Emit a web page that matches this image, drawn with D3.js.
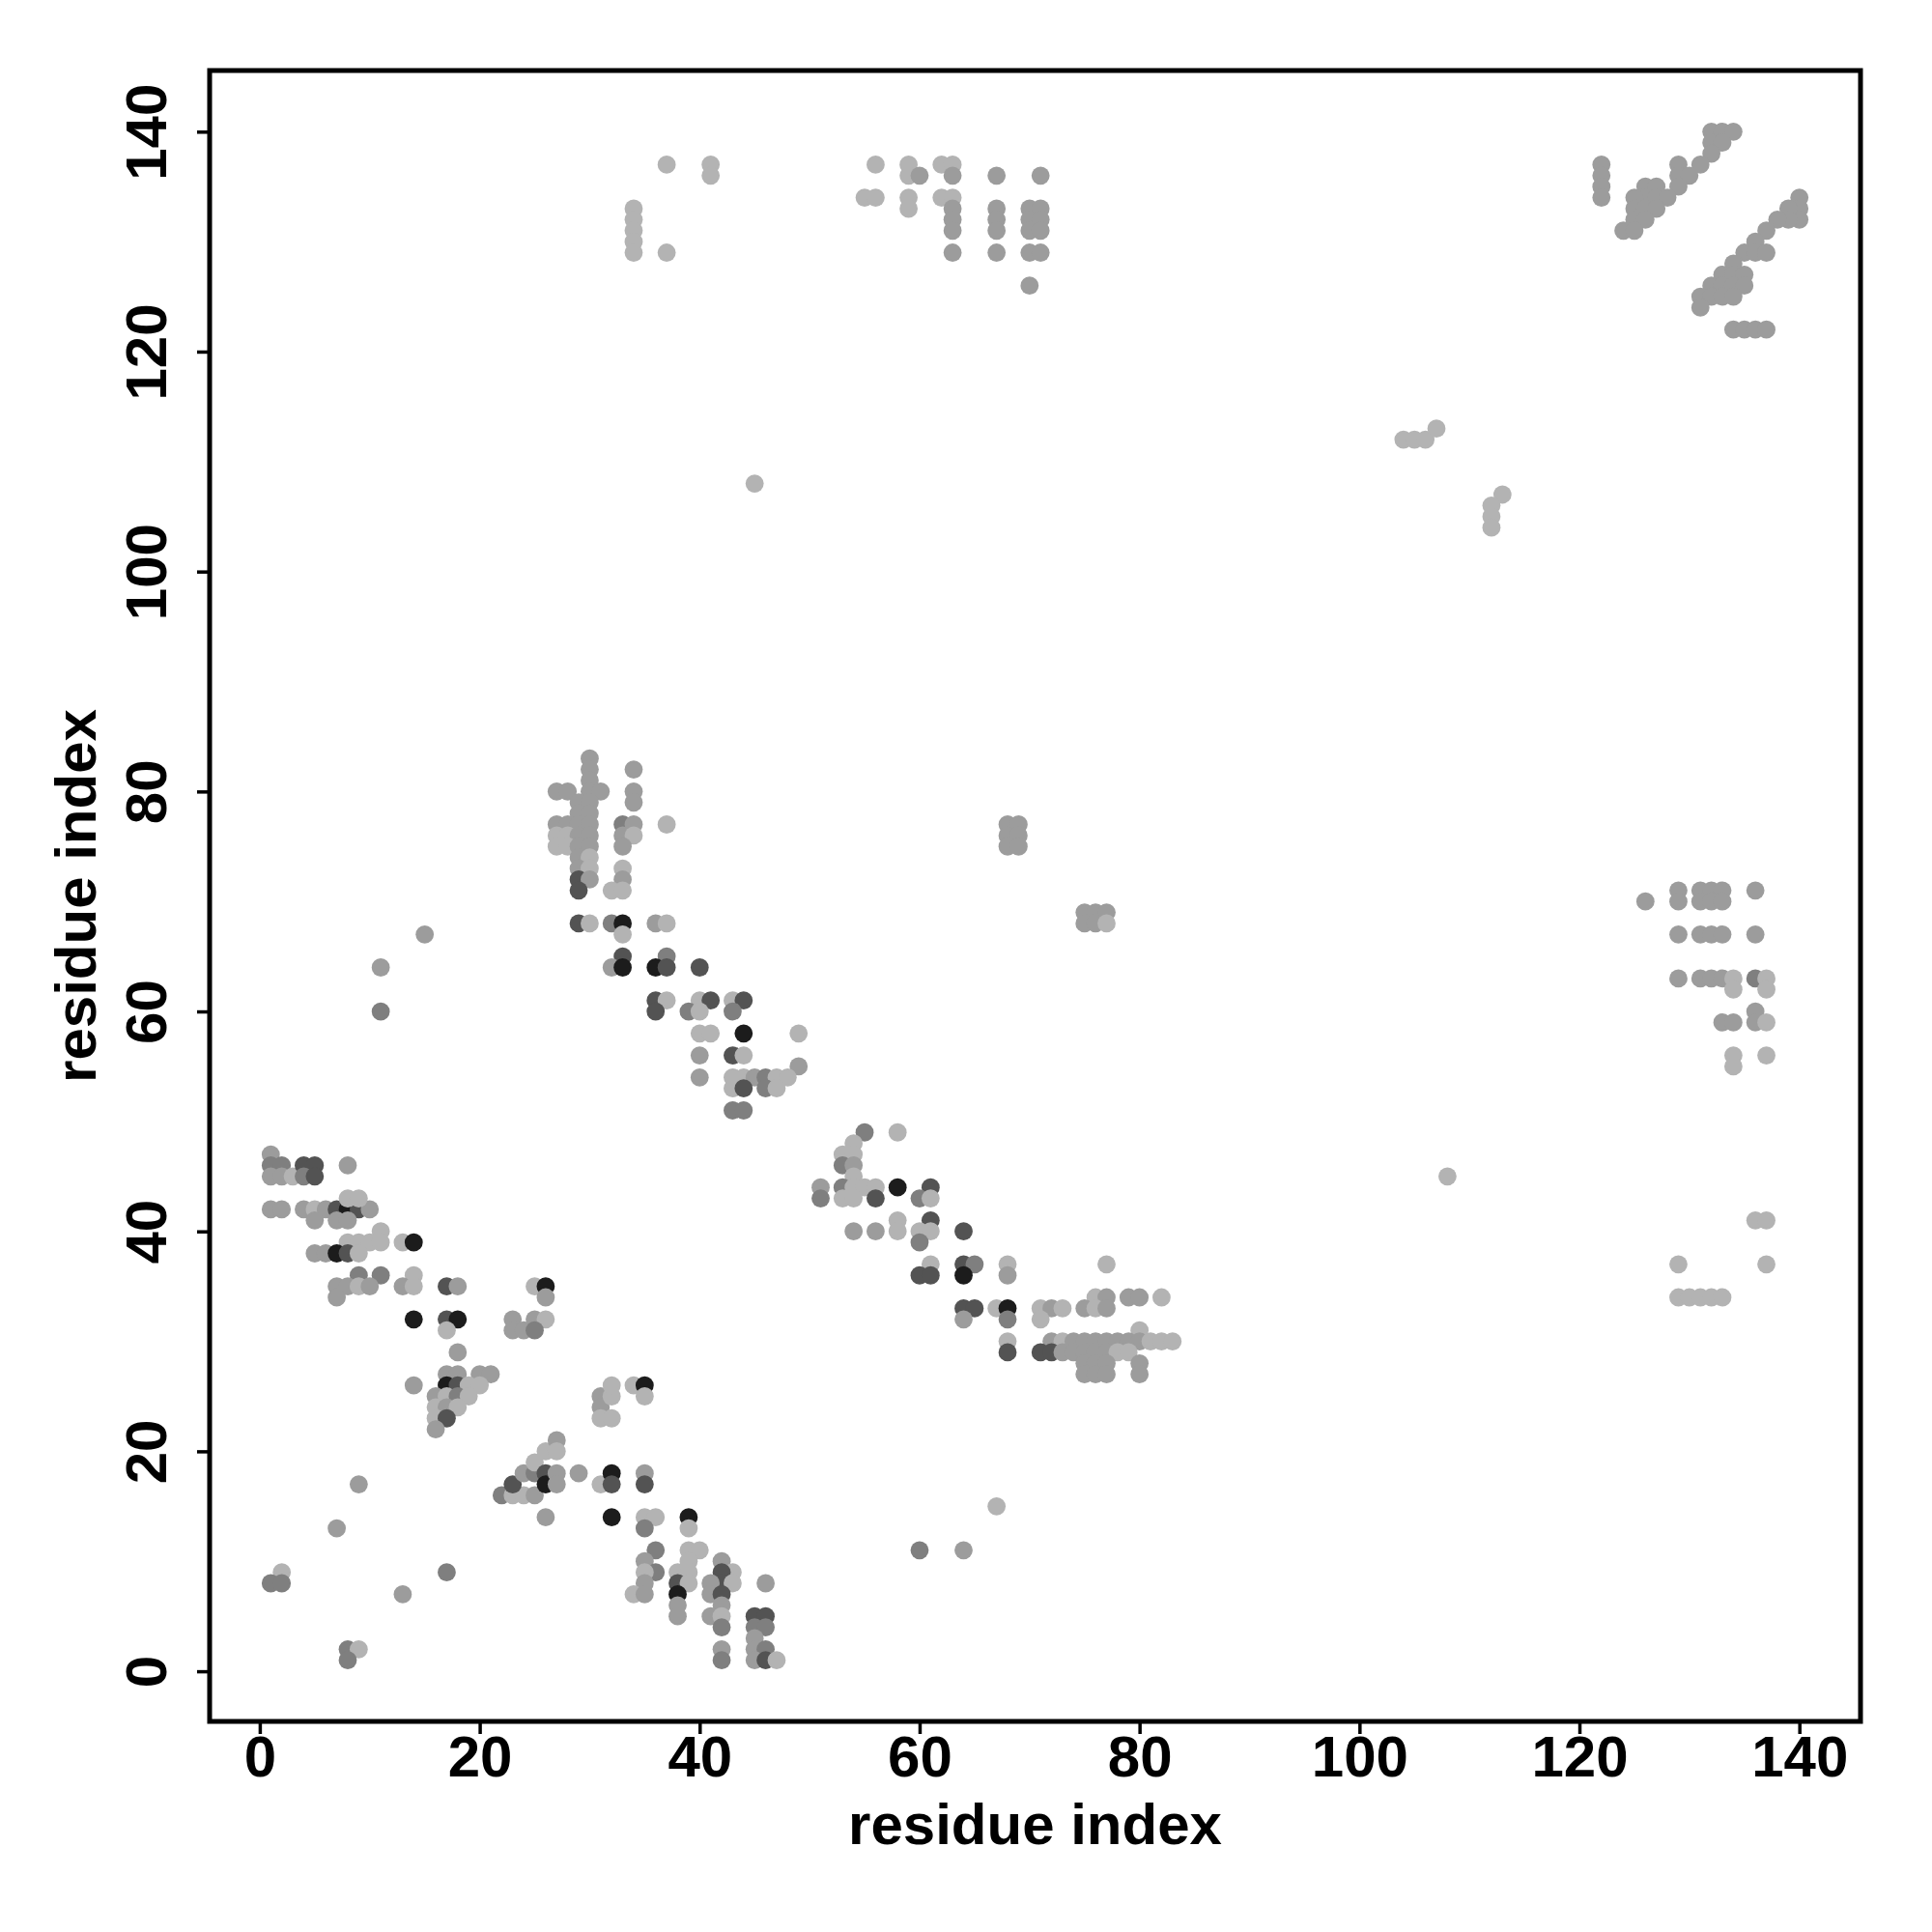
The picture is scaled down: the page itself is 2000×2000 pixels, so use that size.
<!DOCTYPE html>
<html><head><meta charset="utf-8">
<script src="https://cdn.jsdelivr.net/npm/d3@7"></script>
<style>body{margin:0;background:#fff}svg{display:block}</style>
</head><body><div id="chart"></div>
<script>
// contacts: [residue i, residue j, shade level 1(light)..5(black)]
const clusterLowerLeft = [
[1,47,2],[1,46,3],[2,46,3],[1,45,2],[2,45,2],[3,45,1],[4,46,4],[5,46,4],[4,45,3],[5,45,4],[8,46,2],
[1,42,2],[2,42,2],[4,42,2],[5,42,1],[6,42,2],[7,42,4],[8,42,5],[9,42,4],[10,42,2],[8,43,1],[9,43,1],
[5,41,2],[7,41,2],[8,41,2],[11,40,1],
[8,39,1],[9,39,1],[10,39,1],[11,39,1],[13,39,1],[14,39,5],
[5,38,2],[6,38,2],[7,38,5],[8,38,4],[9,38,1],
[9,36,3],[11,36,3],[14,36,1],
[7,35,2],[8,35,2],[9,35,1],[10,35,2],[13,35,2],[14,35,1],[17,35,4],[18,35,2],[25,35,1],[26,35,5],
[7,34,2],[26,34,2],
[14,32,5],[17,32,4],[18,32,5],[23,32,2],[25,32,2],[26,32,1],
[17,31,1],[23,31,2],[24,31,2],[25,31,3],[18,29,2],
[17,27,2],[18,27,2],[20,27,2],[21,27,2],
[14,26,2],[17,26,5],[18,26,4],[19,26,1],[20,26,1],
[16,25,2],[17,25,1],[18,25,3],[19,25,1],[16,24,1],[17,24,2],[18,24,1],[16,23,1],[17,23,4],[16,22,2]
];
const clusterLowSparse = [
[9,17,2],[7,13,2],[2,9,1],[1,8,3],[2,8,3],[17,9,3],[13,7,2],[8,2,3],[9,2,1],[8,1,3],
[60,11,3],[64,11,2],[67,15,1],[15,67,2],[11,64,2],[11,60,3],[45,108,1],[108,45,1]
];
const clusterStrand = [
[22,16,3],[23,16,1],[24,16,1],[25,16,2],[23,17,4],[24,18,2],[25,18,3],[25,19,1],[26,20,1],[26,18,4],[26,17,5],
[27,21,2],[27,20,1],[27,18,2],[27,17,2],[29,18,2],[26,14,2],
[31,17,1],[32,18,5],[32,17,4],[32,14,5],[35,18,2],[35,17,4],
[35,14,1],[36,14,1],[35,13,3],[39,14,5],[39,13,1],
[36,11,3],[35,10,2],[36,9,3],[35,9,1],[35,8,2],[34,7,1],[35,7,2],
[39,11,1],[40,11,1],[39,10,1],[38,9,1],[39,9,1],[38,8,4],[39,8,1],[38,7,5],[38,6,2],[38,5,2],
[42,10,2],[43,9,1],[42,9,4],[42,8,4],[43,8,1],[41,8,2],[41,7,2],[42,7,4],[42,6,2],[41,5,2],[42,5,1],[42,4,3],[46,8,2],
[45,5,4],[46,5,4],[45,4,3],[46,4,3],[45,3,2],[45,2,2],[46,2,3],[45,1,2],[46,1,4],[47,1,1],[42,2,2],[42,1,3],
[31,25,2],[31,24,2],[31,23,1],[32,23,1],[32,25,1],[32,26,1],[34,26,1],[35,26,5],[35,25,1]
];
const clusterMidLeft = [
[30,83,2],[30,82,2],[30,81,2],[27,80,2],[28,80,2],[30,80,2],[31,80,2],[34,82,2],[34,80,2],[34,79,2],
[29,79,2],[30,79,2],[29,78,2],[30,78,2],
[27,77,2],[28,77,2],[29,77,2],[30,77,2],[33,77,3],[34,77,2],[37,77,1],
[27,76,1],[28,76,1],[29,76,2],[30,76,2],[33,76,2],[34,76,1],
[27,75,1],[28,75,1],[29,75,2],[30,75,2],[33,75,2],
[29,74,2],[30,74,1],[29,73,2],[30,73,1],[33,73,1],[29,72,4],[30,72,2],[33,72,2],[29,71,4],[32,71,1],[33,71,1],
[29,68,4],[30,68,1],[32,68,3],[33,68,5],[36,68,2],[37,68,1],[33,67,1],
[33,65,4],[37,65,3],[32,64,2],[33,64,5],[36,64,5],[37,64,4],[40,64,4],
[36,61,4],[37,61,1],[40,61,1],[41,61,4],[43,61,1],[44,61,4],
[36,60,4],[39,60,3],[40,60,1],[43,60,3],
[40,58,1],[41,58,1],[44,58,5],[49,58,1],
[40,56,2],[43,56,4],[44,56,1],[49,55,2],
[40,54,2],[43,54,1],[44,54,1],[45,54,2],[46,54,3],[47,54,1],[48,54,1],
[43,53,1],[44,53,4],[46,53,3],[47,53,1],[43,51,3],[44,51,3]
];
const clusterMidRight = [
[55,49,3],[58,49,1],[54,48,1],[53,47,1],[54,47,1],[53,46,3],[54,46,2],[54,45,1],
[51,44,2],[53,44,3],[54,44,1],[55,44,1],[56,44,1],[58,44,5],[61,44,4],
[51,43,3],[53,43,1],[54,43,1],[56,43,4],[60,43,3],[61,43,1],
[58,41,1],[61,41,4],[54,40,2],[56,40,2],[58,40,1],[60,40,1],[61,40,1],[64,40,4],[60,39,3],
[61,37,1],[64,37,4],[65,37,3],[68,37,1],[77,37,1],
[60,36,4],[61,36,4],[64,36,5],[68,36,2],
[76,34,1],[77,34,2],[79,34,2],[80,34,2],[82,34,1],
[64,33,4],[65,33,4],[67,33,1],[68,33,5],[71,33,1],[72,33,2],[73,33,1],[75,33,2],[76,33,1],[77,33,2],
[64,32,2],[68,32,3],[71,32,1],[80,31,1],
[68,30,1],[72,30,2],[73,30,1],[74,30,2],[75,30,2],[76,30,2],[77,30,2],[78,30,2],[79,30,2],[80,30,2],[81,30,1],[82,30,1],[83,30,1],
[68,29,4],[71,29,4],[72,29,4],[73,29,2],[74,29,2],[75,29,2],[76,29,2],[77,29,2],[78,29,1],[79,29,1],
[75,28,2],[76,28,2],[77,28,2],[80,28,2],[75,27,2],[76,27,2],[77,27,2],[80,27,2],
[68,77,2],[69,77,2],[68,76,2],[69,76,2],[68,75,2],[69,75,2],
[75,69,2],[76,69,2],[77,69,2],[75,68,2],[76,68,2],[77,68,1]
];
const clusterTop = [
[37,137,1],[41,137,1],[41,136,1],[34,133,1],[34,132,1],[34,131,1],[34,130,1],[34,129,1],[37,129,1],
[56,137,1],[59,137,1],[59,136,1],[60,136,2],[62,137,1],[63,137,1],[63,136,2],[67,136,2],[71,136,2],
[55,134,1],[56,134,1],[59,134,1],[62,134,1],[63,134,1],
[59,133,1],[63,133,2],[67,133,2],[70,133,2],[71,133,2],
[63,132,2],[67,132,2],[70,132,2],[71,132,2],
[63,131,2],[67,131,2],[70,131,2],[71,131,2],
[63,129,2],[67,129,2],[70,129,2],[71,129,2],[70,126,2]
];
const clusterTopRight = [
[122,137,2],[122,136,2],[122,135,2],[122,134,2],
[132,140,2],[133,140,2],[134,140,2],[132,139,2],[133,139,2],[132,138,2],[131,137,2],
[129,137,2],[129,136,2],[130,136,2],[129,135,2],
[126,135,2],[127,135,2],[126,134,2],[127,134,2],[128,134,2],[125,134,2],
[125,133,2],[126,133,2],[127,133,2],[125,132,2],[126,132,2],[124,131,2],[125,131,2],
[140,134,2],[140,133,2],[140,132,2],[139,133,2],[139,132,2],[138,132,2],[137,131,2],[136,130,2],
[135,129,2],[136,129,2],[137,129,2],[134,128,2],[133,127,2],[134,127,2],[135,127,2],
[132,126,2],[133,126,2],[134,126,2],[135,126,2],[131,125,2],[132,125,2],[133,125,2],[134,125,2],[131,124,2],
[134,122,2],[135,122,2],[136,122,2],[137,122,2],
[104,112,1],[105,112,1],[106,112,1],[107,113,1],[113,107,1],[112,106,1],[112,105,1],[112,104,1]
];
const clusterRight = [
[126,70,2],[129,71,2],[129,70,2],[131,71,2],[132,71,2],[133,71,2],[131,70,2],[132,70,2],[133,70,2],[136,71,2],
[129,67,2],[131,67,2],[132,67,2],[133,67,2],[136,67,2],
[129,63,2],[131,63,2],[132,63,2],[133,63,2],[134,63,1],[136,63,3],[137,63,1],[134,62,1],[137,62,1],
[136,60,2],[133,59,2],[134,59,2],[136,59,2],[137,59,1],[134,56,1],[137,56,1],[134,55,1],
[136,41,1],[137,41,1],[129,37,1],[137,37,1],
[129,34,1],[130,34,1],[131,34,1],[132,34,1],[133,34,1]
];
const tickValues = [0,20,40,60,80,100,120,140];
const axisTitleX = "residue index";
const axisTitleY = "residue index";
const shadeLevels = [1,2,3,4,5];
const shadeColors = ["#b3b3b3","#9c9c9c","#7f7f7f","#535353","#1c1c1c"];

const W = 2000, H = 2000;
const box = {left:217, right:1926, top:73, bottom:1782};
const svg = d3.select("#chart").append("svg").attr("width",W).attr("height",H);
svg.append("rect").attr("width",W).attr("height",H).attr("fill","#fff");
const x = d3.scaleLinear().domain([-4.56,145.56]).range([box.left,box.right]);
const y = d3.scaleLinear().domain([-4.56,145.56]).range([box.bottom,box.top]);
const shade = d3.scaleOrdinal().domain(shadeLevels).range(shadeColors);

const all = [].concat(clusterLowerLeft, clusterLowSparse, clusterStrand, clusterMidLeft, clusterMidRight, clusterTop, clusterTopRight, clusterRight);
svg.append("g").selectAll("circle").data(all).join("circle")
  .attr("cx",d=>x(d[0])).attr("cy",d=>y(d[1])).attr("r",9.4)
  .attr("fill",d=>shade(d[2]));

const font = "'Liberation Sans', Arial, Helvetica, sans-serif";
const FS = 60;
const xa = svg.append("g").attr("transform",`translate(0,${box.bottom})`)
  .call(d3.axisBottom(x).tickValues(tickValues).tickSize(13).tickSizeOuter(0).tickPadding(10));
const ya = svg.append("g").attr("transform",`translate(${box.left},0)`)
  .call(d3.axisLeft(y).tickValues(tickValues).tickSize(13).tickSizeOuter(0).tickPadding(10));
[xa,ya].forEach(a=>{
  a.select(".domain").attr("stroke","#000").attr("stroke-width",4);
  a.selectAll(".tick line").attr("stroke","#000").attr("stroke-width",3.5);
  a.selectAll("text").attr("font-family",font).attr("font-weight","bold").attr("font-size",FS).attr("fill","#000");
});
xa.select(".domain").attr("d",`M${x(0)},0H${x(140)}`);
ya.select(".domain").attr("d",`M0,${y(0)}V${y(140)}`);
xa.selectAll(".tick text").attr("y",57).attr("dy","0");
ya.selectAll(".tick text").attr("transform","rotate(-90)").attr("x",0).attr("y",-45).attr("text-anchor","middle").attr("dy","0");

svg.append("rect").attr("x",box.left).attr("y",box.top).attr("width",box.right-box.left).attr("height",box.bottom-box.top)
  .attr("fill","none").attr("stroke","#000").attr("stroke-width",5);

svg.append("text").attr("x",(box.left+box.right)/2).attr("y",1909).attr("text-anchor","middle")
  .attr("font-family",font).attr("font-weight","bold").attr("font-size",FS).text(axisTitleX);
svg.append("text").attr("transform",`translate(99,${(box.top+box.bottom)/2}) rotate(-90)`).attr("text-anchor","middle")
  .attr("font-family",font).attr("font-weight","bold").attr("font-size",FS).text(axisTitleY);
</script></body></html>
